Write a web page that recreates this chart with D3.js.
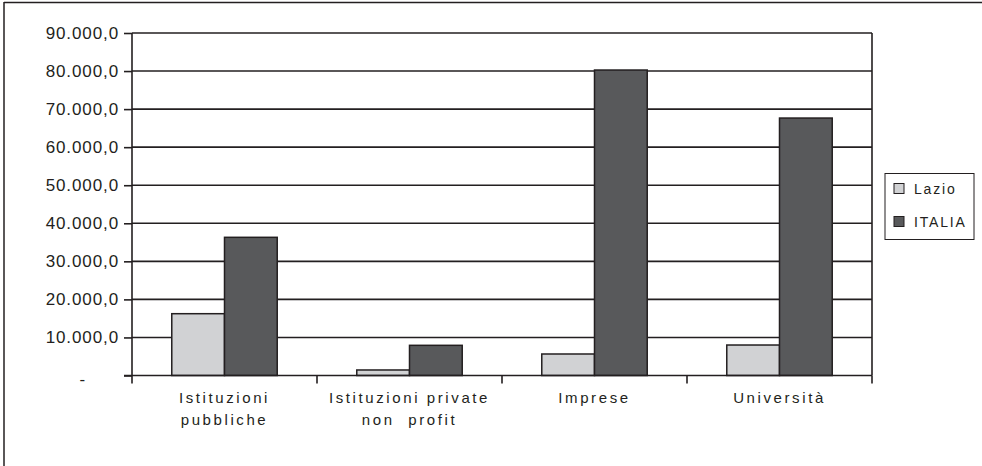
<!DOCTYPE html>
<html>
<head>
<meta charset="utf-8">
<script src="https://cdn.jsdelivr.net/npm/d3@7"></script>
<style>
  html, body { margin: 0; padding: 0; background: #fff; }
  svg { display: block; font-family: "Liberation Sans", Arial, sans-serif; }
</style>
</head>
<body>
<svg id="chart" width="982" height="466"></svg>
<script>
// Categories (two-line labels) and series values
const categories = ["Istituzioni pubbliche", "Istituzioni private non profit", "Imprese", "Università"];
const categoryLines = [["Istituzioni", "pubbliche"], ["Istituzioni private", "non  profit"], ["Imprese"], ["Università"]];
const seriesNames = ["Lazio", "ITALIA"];
const lazio = [16240, 1450, 5650, 8010];
const italia = [36310, 7930, 80270, 67650];
const yTicks = [0, 10000, 20000, 30000, 40000, 50000, 60000, 70000, 80000, 90000];
const yTickLabels = ["-", "10.000,0", "20.000,0", "30.000,0", "40.000,0", "50.000,0", "60.000,0", "70.000,0", "80.000,0", "90.000,0"];
const colors = ["#d1d2d4", "#58595b"];

const ink = "#231f20";
const svg = d3.select("#chart");

// outer frame (top and left edges)
svg.append("line").attr("x1", 4).attr("x2", 982).attr("y1", 2.5).attr("y2", 2.5)
  .attr("stroke", ink).attr("stroke-width", 1.5);
svg.append("line").attr("x1", 4).attr("x2", 4).attr("y1", 2).attr("y2", 466)
  .attr("stroke", ink).attr("stroke-width", 1.5);

const plotL = 132, plotR = 872, plotT = 33, plotB = 375.5;

const x0 = d3.scaleBand().domain(categories).range([plotL, plotR]).paddingInner(0).paddingOuter(0);
const groupPad = 0.215;
const x1 = d3.scaleBand().domain(seriesNames)
  .range([x0.bandwidth() * groupPad, x0.bandwidth() * (1 - groupPad)]);
const y = d3.scaleLinear().domain([0, 90000]).range([plotB, plotT]);

// horizontal gridlines
svg.append("g").selectAll("line").data(yTicks.filter(d => d > 0)).join("line")
  .attr("x1", plotL).attr("x2", plotR)
  .attr("y1", d => y(d)).attr("y2", d => y(d))
  .attr("stroke", ink).attr("stroke-width", 1.6);

// right border of plot area
svg.append("line").attr("x1", plotR).attr("x2", plotR).attr("y1", plotT).attr("y2", plotB)
  .attr("stroke", ink).attr("stroke-width", 1.6);

// bars
const data = categories.map((c, i) => ({ cat: c, vals: [lazio[i], italia[i]] }));
const groups = svg.append("g").selectAll("g").data(data).join("g")
  .attr("transform", d => `translate(${x0(d.cat)},0)`);
groups.selectAll("rect").data(d => d.vals.map((v, j) => ({ name: seriesNames[j], v, j }))).join("rect")
  .attr("x", d => x1(d.name))
  .attr("width", x1.bandwidth())
  .attr("y", d => y(d.v))
  .attr("height", d => y(0) - y(d.v))
  .attr("fill", d => colors[d.j])
  .attr("stroke", ink).attr("stroke-width", 1.5);

// y axis
const yAxis = d3.axisLeft(y).tickValues(yTicks).tickSize(8).tickPadding(5)
  .tickFormat((d, i) => yTickLabels[i]);
const gy = svg.append("g").attr("transform", `translate(${plotL},0)`).call(yAxis);
gy.select(".domain").remove();
gy.selectAll(".tick line").attr("stroke", ink).attr("stroke-width", 1.6);
gy.selectAll(".tick text").attr("fill", ink).attr("font-size", 17)
  .attr("letter-spacing", "0.9px")
  .attr("font-family", "Liberation Sans, Arial, sans-serif");
gy.selectAll(".tick").filter(d => d === 0).select("text").attr("dx", -33).attr("dy", "0.5em");
svg.append("line").attr("x1", plotL).attr("x2", plotL).attr("y1", plotT).attr("y2", plotB + 8)
  .attr("stroke", ink).attr("stroke-width", 1.6);

// x axis baseline and category boundary ticks
svg.append("line").attr("x1", plotL - 8).attr("x2", plotR).attr("y1", plotB).attr("y2", plotB)
  .attr("stroke", ink).attr("stroke-width", 1.6);
const boundaries = categories.map(c => x0(c)).concat([plotR]).slice(1);
svg.append("g").selectAll("line").data(boundaries).join("line")
  .attr("x1", d => d).attr("x2", d => d).attr("y1", plotB).attr("y2", plotB + 8)
  .attr("stroke", ink).attr("stroke-width", 1.6);

// category labels
const lab = svg.append("g").selectAll("text").data(data).join("text")
  .attr("x", d => x0(d.cat) + x0.bandwidth() / 2)
  .attr("y", 403)
  .attr("text-anchor", "middle")
  .attr("font-size", 15).attr("letter-spacing", "2.6px").attr("fill", ink)
  .style("white-space", "pre");
lab.selectAll("tspan").data((d, i) => categoryLines[i]).join("tspan")
  .attr("x", function () { return this.parentNode.getAttribute("x"); })
  .attr("dy", (d, i) => i === 0 ? 0 : 22)
  .text(d => d);

// legend
const lg = svg.append("g");
lg.append("rect").attr("x", 885).attr("y", 173.5).attr("width", 89).attr("height", 66)
  .attr("fill", "#fff").attr("stroke", ink).attr("stroke-width", 1);
seriesNames.forEach((n, i) => {
  const yy = 189 + i * 33;
  lg.append("rect").attr("x", 894).attr("y", yy - 5.5).attr("width", 10).attr("height", 10)
    .attr("fill", colors[i]).attr("stroke", ink).attr("stroke-width", 1);
  lg.append("text").attr("x", 914).attr("y", yy + 5).attr("font-size", 14)
    .attr("letter-spacing", "1.8px").attr("fill", ink).text(n);
});
</script>
</body>
</html>
